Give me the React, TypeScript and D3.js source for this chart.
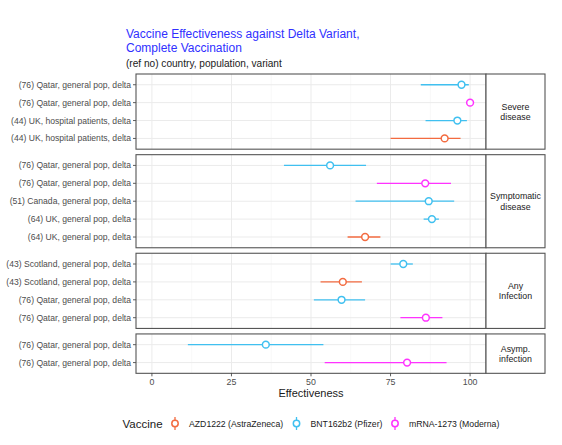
import React from "react";
import * as d3 from "d3";

const facetLabels = [["Severe", "disease"], ["Symptomatic", "disease"], ["Any", "Infection"], ["Asymp.", "infection"]];
const rowLabels = [
  "(76) Qatar, general pop, delta",
  "(76) Qatar, general pop, delta",
  "(44) UK, hospital patients, delta",
  "(44) UK, hospital patients, delta",
  "(76) Qatar, general pop, delta",
  "(76) Qatar, general pop, delta",
  "(51) Canada, general pop, delta",
  "(64) UK, general pop, delta",
  "(64) UK, general pop, delta",
  "(43) Scotland, general pop, delta",
  "(43) Scotland, general pop, delta",
  "(76) Qatar, general pop, delta",
  "(76) Qatar, general pop, delta",
  "(76) Qatar, general pop, delta",
  "(76) Qatar, general pop, delta",
];
const rowFacet = [0, 0, 0, 0, 1, 1, 1, 1, 1, 2, 2, 2, 2, 3, 3];
const vaccines = ["AZD1222 (AstraZeneca)", "BNT162b2 (Pfizer)", "mRNA-1273 (Moderna)"];
const vaccineColors = ["#F36B40", "#40C0F0", "#FF33FF"];
const rowVaccine = [1, 2, 1, 0, 1, 2, 1, 1, 0, 1, 0, 1, 2, 1, 2];
const estimates = [97.3, 100, 96, 92, 56, 85.9, 87, 88, 67, 79, 60, 59.6, 86.1, 35.8, 80.2];
const lowers = [84.5, 100, 86, 75, 41.5, 70.7, 64, 85.4, 61.5, 75, 53, 50.9, 78.1, 11.3, 54.3];
const uppers = [99.6, 100, 99, 97, 67.3, 94, 95, 90.2, 71.8, 82, 66, 67, 91.3, 53.9, 92.6];
const xTicks = [0, 25, 50, 75, 100];
const xMinor = [12.5, 37.5, 62.5, 87.5];

const FONT = "'Liberation Sans', Arial, Helvetica, sans-serif";

export default function App() {
  const W = 562, H = 445;
  const left = 136, right = 486, stripRight = 545;
  const step = 17.9, gap = 5.5;
  const x = d3.scaleLinear().domain([-5, 105]).range([left, right]);

  let top = 74;
  const panels = facetLabels.map((lab, f) => {
    const idx = rowFacet.map((ff, i) => (ff === f ? i : -1)).filter((i) => i >= 0);
    const h = (idx.length - 1 + 1.2) * step;
    const y = d3.scalePoint<number>().domain(idx).range([top, top + h]).padding(0.6);
    const p = { f, idx, top, h, y, lab };
    top += h + gap;
    return p;
  });
  const panelBottom = panels[panels.length - 1].top + panels[panels.length - 1].h;

  return (
    <svg width={W} height={H} style={{ position: "absolute", left: 0, top: 0, background: "#fff" }} fontFamily={FONT}>
      <text x={126} y={37.5} fontSize={12} fill="#3030FF">Vaccine Effectiveness against Delta Variant,</text>
      <text x={126} y={51.5} fontSize={12} fill="#3030FF">Complete Vaccination</text>
      <text x={126} y={67} fontSize={10.1} fill="#1a1a1a">(ref no) country, population, variant</text>

      {panels.map((p) => (
        <g key={p.f}>
          <rect x={left} y={p.top} width={right - left} height={p.h} fill="#fff" />
          {xMinor.map((t) => (
            <line key={"m" + t} x1={x(t)} x2={x(t)} y1={p.top} y2={p.top + p.h} stroke="#F4F4F4" strokeWidth={0.6} />
          ))}
          {xTicks.map((t) => (
            <line key={"M" + t} x1={x(t)} x2={x(t)} y1={p.top} y2={p.top + p.h} stroke="#EBEBEB" strokeWidth={1} />
          ))}
          {p.idx.map((i) => (
            <line key={"h" + i} x1={left} x2={right} y1={p.y(i)} y2={p.y(i)} stroke="#EBEBEB" strokeWidth={1} />
          ))}
          {p.idx.map((i) => (
            <g key={"d" + i}>
              <line x1={x(lowers[i])} x2={x(uppers[i])} y1={p.y(i)} y2={p.y(i)} stroke={vaccineColors[rowVaccine[i]]} strokeWidth={1.3} />
              <circle cx={x(estimates[i])} cy={p.y(i)} r={3.4} fill="#fff" stroke={vaccineColors[rowVaccine[i]]} strokeWidth={1.5} />
            </g>
          ))}
          {p.idx.map((i) => (
            <g key={"t" + i}>
              <line x1={left - 3} x2={left} y1={p.y(i)} y2={p.y(i)} stroke="#333" strokeWidth={0.8} />
              <text x={left - 5} y={p.y(i)! + 3} fontSize={8.6} fill="#4D4D4D" textAnchor="end">{rowLabels[i]}</text>
            </g>
          ))}
          <rect x={left} y={p.top} width={right - left} height={p.h} fill="none" stroke="#555" strokeWidth={1.1} />
          <rect x={right} y={p.top} width={stripRight - right} height={p.h} fill="#fff" stroke="#555" strokeWidth={1.1} />
          {p.lab.map((s, k) => (
            <text key={k} x={(right + stripRight) / 2} y={p.top + p.h / 2 + (k - (p.lab.length - 1) / 2) * 10.5 + 3.2} fontSize={8.8} fill="#1A1A1A" textAnchor="middle">{s}</text>
          ))}
        </g>
      ))}

      {xTicks.map((t) => (
        <g key={"xt" + t}>
          <line x1={x(t)} x2={x(t)} y1={panelBottom} y2={panelBottom + 3} stroke="#333" strokeWidth={0.8} />
          <text x={x(t)} y={panelBottom + 11.5} fontSize={8.8} fill="#4D4D4D" textAnchor="middle">{t}</text>
        </g>
      ))}
      <text x={(left + right) / 2} y={397} fontSize={11} fill="#1a1a1a" textAnchor="middle">Effectiveness</text>

      <text x={122.5} y={427.5} fontSize={11.5} fill="#1a1a1a">Vaccine</text>
      {vaccines.map((v, k) => {
        const kx = [175, 296.5, 395][k];
        return (
          <g key={v}>
            <line x1={kx} x2={kx} y1={417} y2={430} stroke={vaccineColors[k]} strokeWidth={1.3} />
            <circle cx={kx} cy={423.5} r={3.2} fill="#fff" stroke={vaccineColors[k]} strokeWidth={1.5} />
            <text x={kx + 14} y={426.5} fontSize={8.7} fill="#1a1a1a">{v}</text>
          </g>
        );
      })}
    </svg>
  );
}
